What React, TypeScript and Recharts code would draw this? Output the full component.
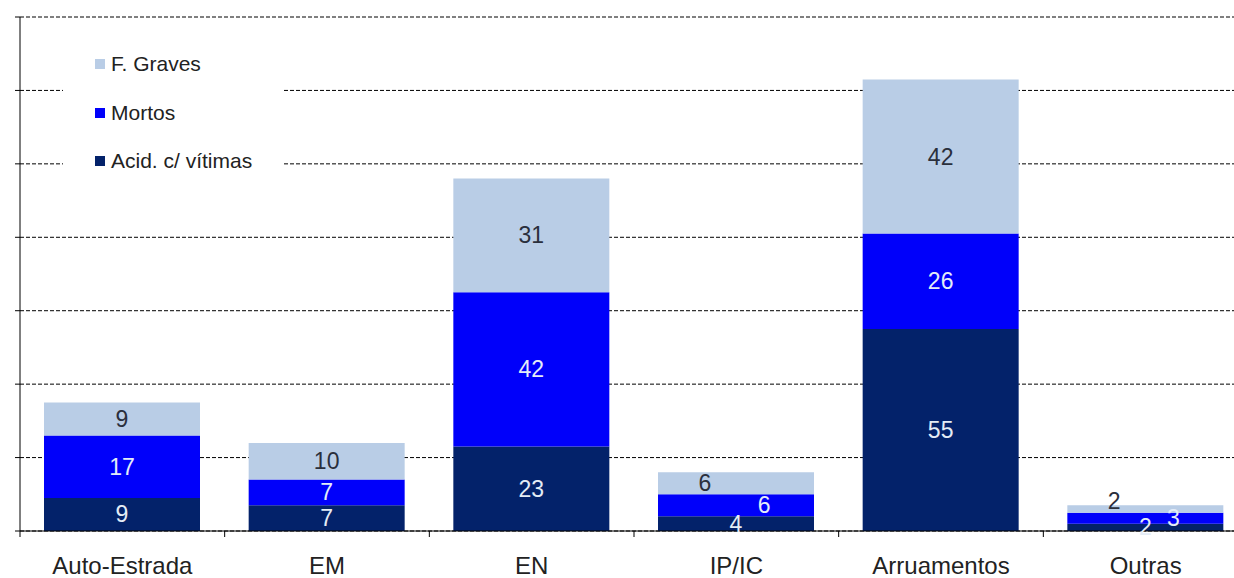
import React from 'react';
import { BarChart, Bar, XAxis, YAxis, CartesianGrid, LabelList, Legend } from 'recharts';

const categories = ['Auto-Estrada', 'EM', 'EN', 'IP/IC', 'Arruamentos', 'Outras'];
const acidValues = [9, 7, 23, 4, 55, 2];
const mortosValues = [17, 7, 42, 6, 26, 3];
const gravesValues = [9, 10, 31, 6, 42, 2];
const yTicks = [0, 20, 40, 60, 80, 100, 120, 140];

const seriesList = [
  { key: 'graves', name: 'F. Graves', color: '#B9CDE6', labelColor: '#2A2F3C' },
  { key: 'mortos', name: 'Mortos', color: '#0000FA', labelColor: '#E4ECF8' },
  { key: 'acid', name: 'Acid. c/ vítimas', color: '#03226A', labelColor: '#E4ECF6' },
];

const data = categories.map((name, i) => ({
  name,
  acid: acidValues[i],
  mortos: mortosValues[i],
  graves: gravesValues[i],
}));

const FONT = "'Liberation Sans', Arial, sans-serif";

const makeLabel = (seriesKey: string, color: string) => (props: any) => {
  const { x, y, width, height, value } = props;
  const w = Number(width);
  const h = Number(height);
  let dx = 0;
  let dy = 0;
  if (h < 24) {
    if (seriesKey === 'graves') dx = -0.2 * w;
    if (seriesKey === 'mortos') dx = 0.18 * w;
    if (h < 12 && seriesKey === 'graves') dy = -8;
  }
  return (
    <text
      x={Number(x) + w / 2 + dx}
      y={Number(y) + h / 2 + dy}
      textAnchor="middle"
      dominantBaseline="central"
      fill={color}
      fontSize={23}
      fontFamily={FONT}
    >
      {value}
    </text>
  );
};

const CategoryTick = (props: any) => {
  const { x, y, payload } = props;
  const off = payload && payload.offset != null ? payload.offset : 1228 / 12;
  return (
    <g>
      <line x1={x - off} x2={x - off} y1={y} y2={y + 6} stroke="#000" strokeWidth={1} />
      <text x={x} y={y + 43} textAnchor="middle" fill="#222" fontSize={24} fontFamily={FONT}>
        {payload.value}
      </text>
    </g>
  );
};

const LegendContent = () => (
  <div style={{ background: '#fff', width: '100%', height: '100%', fontFamily: FONT }}>
    {seriesList.map((s) => (
      <div
        key={s.key}
        style={{ height: 48.5, display: 'flex', alignItems: 'center', paddingLeft: 32 }}
      >
        <span style={{ display: 'inline-block', width: 10, height: 10, background: s.color, marginRight: 6 }} />
        <span style={{ fontSize: 21, color: '#222' }}>{s.name}</span>
      </div>
    ))}
  </div>
);

export default function App() {
  return (
    <div
      style={{
        position: 'fixed',
        left: 0,
        top: 0,
        width: 1234,
        height: 578,
        overflow: 'hidden',
        background: '#fff',
      }}
    >
      <BarChart width={1248} height={578} data={data} margin={{ top: 17, right: 0, bottom: 0, left: 0 }}>
        <CartesianGrid vertical={false} stroke="#000" strokeDasharray="4 2" />
        <YAxis
          width={20}
          domain={[0, 140]}
          ticks={yTicks}
          tickFormatter={() => ''}
          tick={{ fontSize: 1 }}
          tickSize={5}
          axisLine={{ stroke: '#000' }}
          tickLine={{ stroke: '#000' }}
          allowDataOverflow
        />
        <XAxis
          dataKey="name"
          height={47}
          interval={0}
          tickLine={false}
          tickSize={0}
          tickMargin={0}
          axisLine={{ stroke: '#000' }}
          tick={<CategoryTick />}
        />
        <Legend
          layout="vertical"
          align="center"
          verticalAlign="middle"
          wrapperStyle={{ left: 63, top: 40, width: 220, height: 146 }}
          content={<LegendContent />}
        />
        <Bar dataKey="acid" name="Acid. c/ vítimas" stackId="a" fill="#03226A" barSize={156} isAnimationActive={false}>
          <LabelList dataKey="acid" content={makeLabel('acid', '#E4ECF6')} />
        </Bar>
        <Bar dataKey="mortos" name="Mortos" stackId="a" fill="#0000FA" barSize={156} isAnimationActive={false}>
          <LabelList dataKey="mortos" content={makeLabel('mortos', '#E4ECF8')} />
        </Bar>
        <Bar dataKey="graves" name="F. Graves" stackId="a" fill="#B9CDE6" barSize={156} isAnimationActive={false}>
          <LabelList dataKey="graves" content={makeLabel('graves', '#2A2F3C')} />
        </Bar>
      </BarChart>
    </div>
  );
}
